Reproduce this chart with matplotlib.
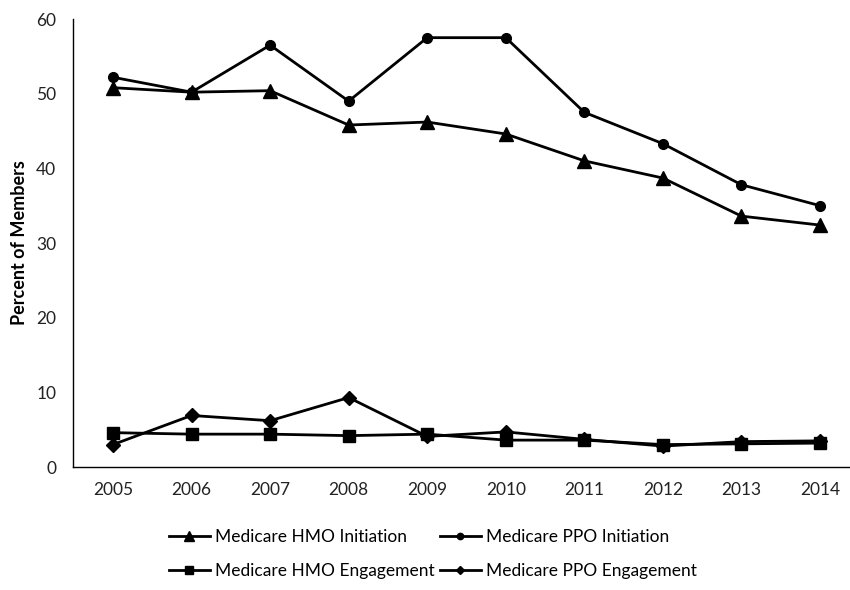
import matplotlib
matplotlib.use("Agg")
import matplotlib.pyplot as plt

years = ["2005", "2006", "2007", "2008", "2009", "2010", "2011", "2012", "2013", "2014"]
hmo_initiation = [50.8, 50.2, 50.4, 45.8, 46.2, 44.6, 41.0, 38.7, 33.6, 32.4]
ppo_initiation = [52.2, 50.2, 56.5, 49.0, 57.5, 57.5, 47.5, 43.3, 37.8, 35.0]
hmo_engagement = [4.6, 4.4, 4.4, 4.2, 4.4, 3.6, 3.6, 3.0, 3.1, 3.2]
ppo_engagement = [3.0, 6.9, 6.2, 9.3, 4.1, 4.7, 3.7, 2.8, 3.4, 3.5]
yticks = [0, 10, 20, 30, 40, 50, 60]

plt.rcParams['font.family'] = ['Lato', 'DejaVu Sans']

fig = plt.figure(figsize=(8.5, 5.9), dpi=100)
ax = fig.add_axes([73/850, 1-467/590, 1-73/850, (467-19)/590])

x = list(range(len(years)))
l1, = ax.plot(x, hmo_initiation, color='black', lw=2, marker='^', ms=10, label='Medicare HMO Initiation')
l2, = ax.plot(x, ppo_initiation, color='black', lw=2, marker='o', ms=7, label='Medicare PPO Initiation')
l3, = ax.plot(x, hmo_engagement, color='black', lw=2, marker='s', ms=8, label='Medicare HMO Engagement')
l4, = ax.plot(x, ppo_engagement, color='black', lw=2, marker='D', ms=7, label='Medicare PPO Engagement')

ax.set_xlim(-40/78.6, 9 + 30/78.6)
ax.set_ylim(0, 60)
ax.set_xticks(x)
ax.set_xticklabels(years)
ax.set_yticks(yticks)
ax.tick_params(axis='both', length=0, labelsize=12.5, colors='#222222')
ax.tick_params(axis='x', pad=11)
ax.tick_params(axis='y', pad=12)
for s in ['top', 'right']:
    ax.spines[s].set_visible(False)
for s in ['left', 'bottom']:
    ax.spines[s].set_linewidth(1)
    ax.spines[s].set_color('black')
ax.set_ylabel('Percent of Members', fontsize=13, fontweight='bold', labelpad=6)

handles = [l1, l3, l2, l4]
labels = [h.get_label() for h in handles]
leg = fig.legend(handles, labels, ncol=2, loc='upper left', bbox_to_anchor=(155/850, 1-515/590),
           frameon=False, fontsize=12.5, handlelength=2.35, handletextpad=0.3,
           columnspacing=0.3, labelspacing=1.05, markerscale=0.65, borderpad=0.3)

fig.savefig('out.png', dpi=100)
